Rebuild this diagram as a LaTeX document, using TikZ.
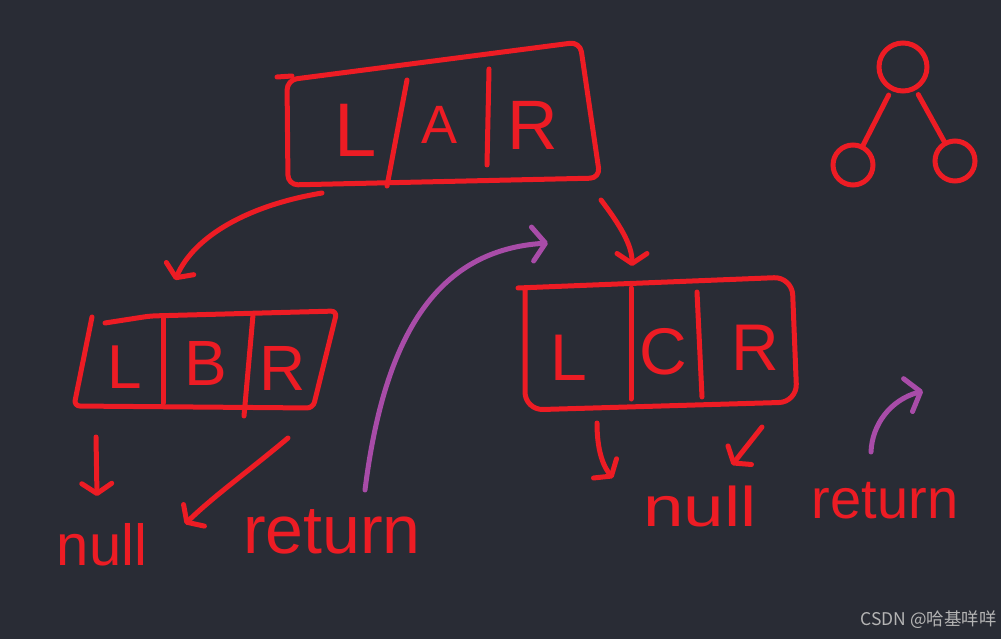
\documentclass[tikz,border=0pt]{standalone}
\usepackage{fontspec}
\setmainfont{Liberation Sans}
\newfontfamily\cjkfont{Noto Sans CJK SC}
\usetikzlibrary{arrows.meta}
\definecolor{bgc}{HTML}{292C35}
\definecolor{pen}{HTML}{ED1C24}
\definecolor{violetpen}{HTML}{A84CA8}
\definecolor{markgray}{HTML}{B4B4B4}
\tikzset{
  ink/.style={draw=pen, line width=5pt, line cap=round, line join=round},
  vink/.style={draw=violetpen, line width=5pt, line cap=round, line join=round},
  redtip/.style={-{Straight Barb[length=10pt,width=30pt,round]}},
  vtip/.style={-{Straight Barb[length=13pt,width=34pt,round]}},
  letter/.style={text=pen, inner sep=0pt, font=\fontsize{#1pt}{#1pt}\selectfont},
  word/.style={text=pen, inner sep=0pt, anchor=base, font=\fontsize{#1pt}{#1pt}\selectfont},
  treenode/.style={circle, draw=pen, line width=5pt, inner sep=0pt, minimum size=#1},
}
\begin{document}
\begin{tikzpicture}[x=1pt,y=-1pt]
\fill[bgc] (0,0) rectangle (1001,639);
\useasboundingbox (0,0) rectangle (1001,639);

% ---- box A (L | A | R)
\draw[ink, rounded corners=10pt] (287,80) -- (580,42) -- (600,178) -- (288,185) -- cycle;
\draw[ink] (277,77) -- (292,76);
\draw[ink] (407,80) -- (387,186);
\draw[ink] (489,69) -- (487,165);
\node[letter=76] (aL) at (356,130) {L};
\node[letter=54] (aA) at (440,125) {A};
\node[letter=70] (aR) at (533,125) {R};

% ---- box B (L | B | R)
\draw[ink, rounded corners=6pt] (92,317) -- (74,406) -- (313,408) -- (337,311) -- (150,316) -- (105,323);
\draw[ink] (163,317) -- (163,403);
\draw[ink] (253,315) -- (244,416);
\node[letter=62] (bL) at (125,367) {L};
\node[letter=64] (bB) at (206,363) {B};
\node[letter=64] (bR) at (283,368) {R};

% ---- box C (L | C | R)
\draw[ink, rounded corners=18pt] (525,290) -- (525,410) -- (797,402) -- (792,277) -- (518,288);
\draw[ink] (631,288) -- (631,399);
\draw[ink] (697,292) -- (702,397);
\node[letter=66] (cL) at (569,358) {L};
\node[letter=66] (cC) at (663,352) {C};
\node[letter=66] (cR) at (755,348) {R};

% ---- tree icon
\node[treenode=48pt] (t0) at (903,67) {};
\node[treenode=40pt] (t1) at (853,165) {};
\node[treenode=40pt] (t2) at (955,161) {};
\draw[ink, shorten <=5pt] (t0) -- (t1);
\draw[ink, shorten <=5pt] (t0) -- (t2);

% ---- connector end points
\coordinate (ab1) at (322,193);  \coordinate (ab2) at (175,280);
\coordinate (ac1) at (601,200);  \coordinate (ac2) at (632,266);
\coordinate (bn1) at (96,437);   \coordinate (bn2) at (97,496);
\coordinate (br1) at (288,438);  \coordinate (br2) at (185,524);
\coordinate (cn1) at (597,423);  \coordinate (cn2) at (613,478);
\coordinate (cr1) at (762,427);  \coordinate (cr2) at (732,465);
\coordinate (pv1) at (365,490);  \coordinate (pv2) at (548,243);
\coordinate (ps1) at (871,452);  \coordinate (ps2) at (923,391);

% ---- red arrows
\draw[ink, redtip] (ab1) .. controls (250,205) and (195,235) .. (ab2);
\draw[ink, redtip] (ac1) .. controls (620,225) and (632,245) .. (ac2);
\draw[ink, redtip] (bn1) -- (bn2);
\draw[ink, redtip] (br1) .. controls (250,470) and (215,495) .. (br2);
\draw[ink, redtip] (cn1) .. controls (597,450) and (603,466) .. (cn2);
\draw[ink, redtip] (cr1) -- (cr2);

% ---- purple arrows
\draw[vink, vtip] (pv1) .. controls (385,330) and (440,250) .. (pv2);
\draw[vink, vtip] (ps1) .. controls (872,425) and (890,400) .. (ps2);

% ---- words
\node[word=58] (null1) at (102,565) {null};
\node[word=68] (ret1) at (332,553) {return};
\node[word=56] (null2) at (700,526) {\scalebox{1.3}[1]{null}};
\node[word=56] (ret2) at (885,518) {return};

% ---- watermark
\node[text=markgray, inner sep=0pt, anchor=east, font=\cjkfont\fontsize{17.5pt}{18pt}\selectfont] (wm) at (997,620) {CSDN @哈基咩咩};
\end{tikzpicture}
\end{document}
